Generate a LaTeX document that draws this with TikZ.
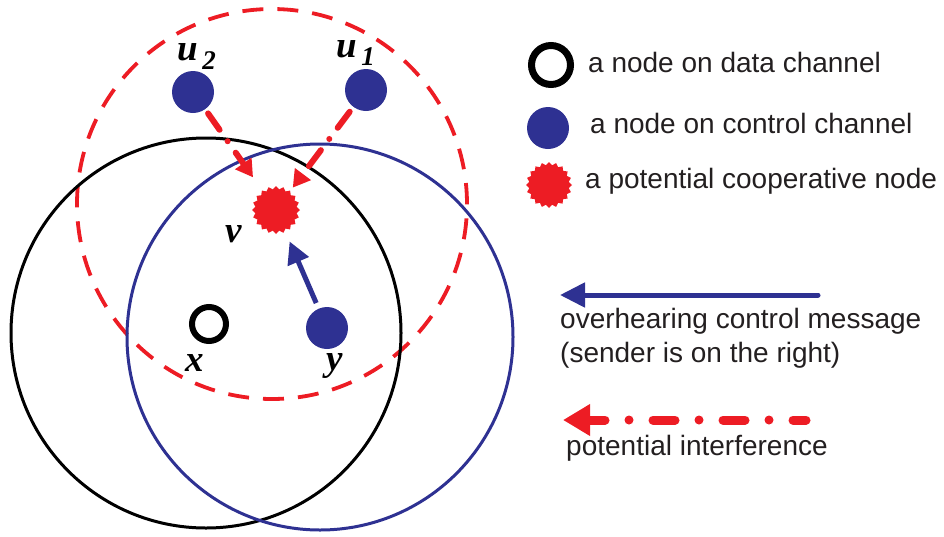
\documentclass[tikz,border=0pt]{standalone}
\usepackage{fontspec}
\usetikzlibrary{arrows.meta,shapes.geometric}
\newfontfamily\lgdfont{Liberation Sans}
\newfontfamily\lblfont{Liberation Serif}
\definecolor{cblue}{RGB}{46,49,146}
\definecolor{cred}{RGB}{237,28,36}
\definecolor{ctext}{RGB}{35,31,32}
\tikzset{
  rangecirc/.style={draw,circle,inner sep=0,line width=3pt},
  ctrl/.style={circle,fill=cblue,inner sep=0,minimum size=42pt},
  datanode/.style={circle,draw=black,line width=6pt,inner sep=0,minimum size=34pt},
  coop/.style={star,star points=20,star point ratio=1.15,fill=cred,inner sep=0,minimum size=48pt},
  lbl/.style={inner sep=0,anchor=base west,font=\lblfont\bfseries\itshape\fontsize{37}{37}\selectfont},
  lgd/.style={inner sep=0,anchor=base west,text=ctext,font=\lgdfont\fontsize{28}{30}\selectfont},
  interf/.style={cred,line width=6pt,line cap=round,dash pattern=on 20pt off 14pt on 0pt off 14pt,-{Triangle[length=17pt,width=19pt]}},
  overhear/.style={cblue,line width=5pt,-{Triangle[length=22pt,width=22pt]}}
}
\begin{document}
\begin{tikzpicture}[x=1pt,y=-1pt]
\useasboundingbox (0,0) rectangle (944,536);
% ranges
\node[rangecirc,cred,line width=3.8pt,dash pattern=on 21pt off 14pt,minimum size=390pt] (rr) at (272,204) {};
\node[rangecirc,black,minimum size=390pt] (rb) at (206,333) {};
\node[rangecirc,cblue,minimum size=386pt] (rl) at (320,337) {};
% nodes
\node[ctrl] (u2) at (193,92) {};
\node[ctrl] (u1) at (366,90) {};
\node[ctrl] (y) at (327,328) {};
\node[datanode] (x) at (209,324) {};
\node[coop] (v) at (276,210) {};
% labels
\node[lbl] (lu2) at (177,60) {u\raisebox{-9pt}{\fontsize{27}{27}\selectfont\,2}};
\node[lbl] (lu1) at (336,57) {u\raisebox{-8pt}{\fontsize{27}{27}\selectfont\,1}};
\node[lbl] (lv) at (225,242) {v};
\node[lbl] (lx) at (185,371) {x};
\node[lbl] (ly) at (326,370) {y};
% connectors
\draw[interf,shorten <=5pt,shorten >=16pt] (u2) -- (v);
\draw[interf,shorten <=6pt,shorten >=4pt] (u1) -- (v);
\draw[overhear,shorten <=6pt,shorten >=12pt] (y) -- (v);
% legend
\node[datanode,line width=7pt,minimum size=39pt] (k1) at (551,65) {};
\node[ctrl] (k2) at (548,128) {};
\node[coop,minimum size=46pt] (k3) at (549,185) {};
\node[lgd] (t1) at (588,72) {a node on data channel};
\node[lgd] (t2) at (590,133) {a node on control channel};
\node[lgd] (t3) at (585,188) {a potential cooperative node};
\coordinate (b1) at (818,295);
\coordinate (b2) at (560,295);
\draw[overhear,line width=5pt,line cap=round,-{Triangle[length=25pt,width=24pt]}] (b1) -- (b2);
\node[lgd] (t4) at (560,328) {overhearing control message};
\node[lgd] (t5) at (560,362) {(sender is on the right)};
\coordinate (r1) at (806,420);
\coordinate (r2) at (563,420);
\draw[cred,line width=9pt,line cap=round,dash pattern=on 22pt off 24pt on 0pt off 24pt,dash phase=9pt,-{Triangle[length=27pt,width=30pt]}] (r1) -- (r2);
\node[lgd] (t6) at (566,455) {potential interference};
\end{tikzpicture}
\end{document}
